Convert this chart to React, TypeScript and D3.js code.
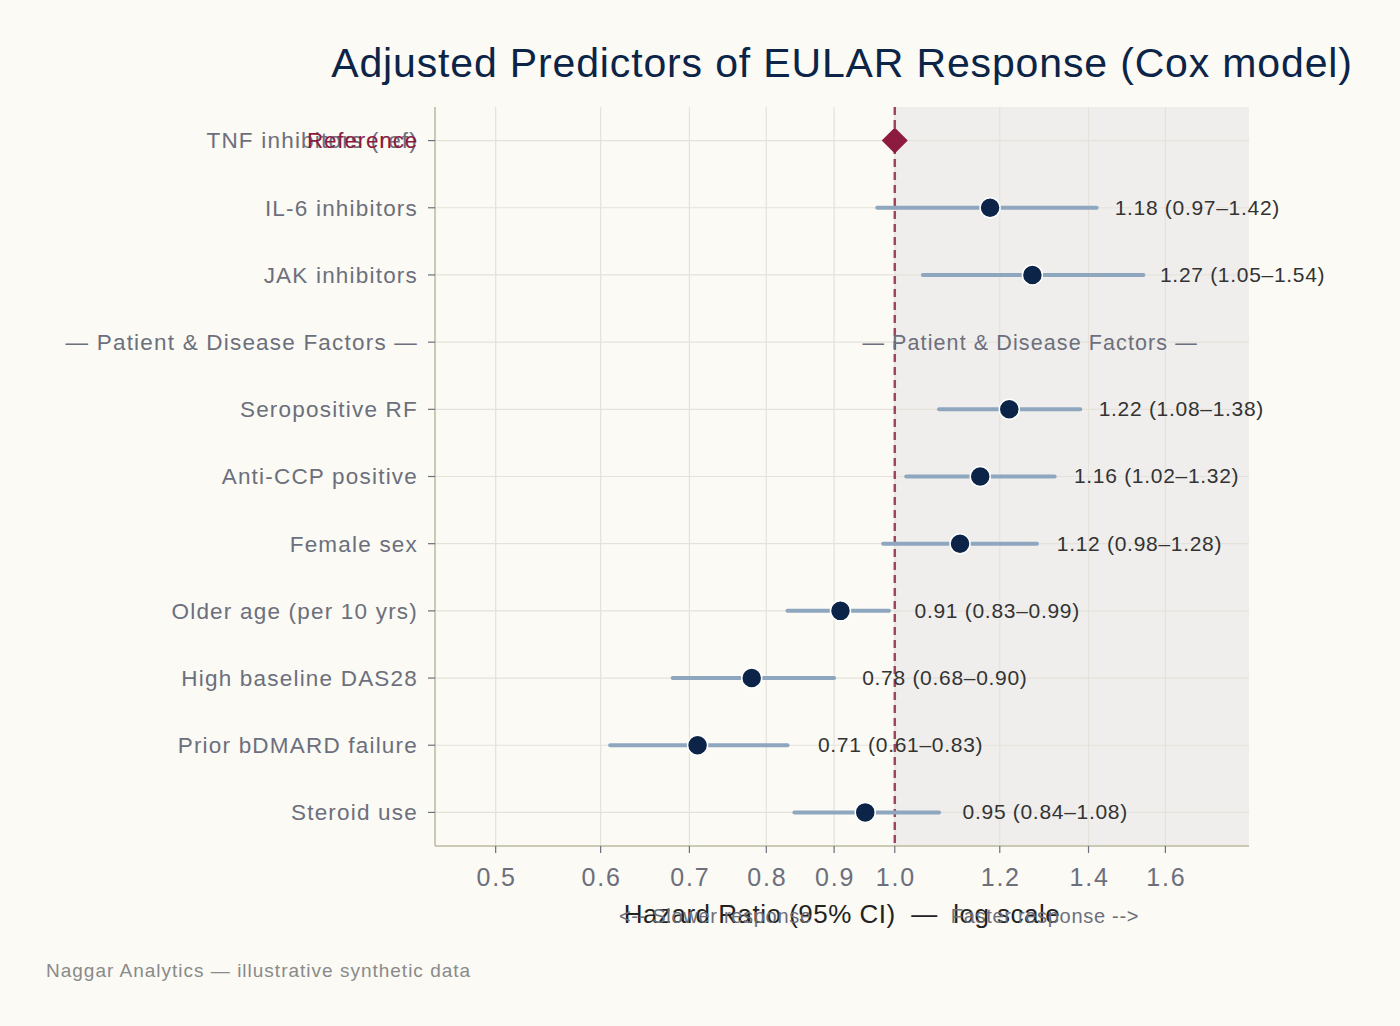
import React from "react";
import * as d3 from "d3";

const predictors = [
  "TNF inhibitors (ref)",
  "IL-6 inhibitors",
  "JAK inhibitors",
  "— Patient & Disease Factors —",
  "Seropositive RF",
  "Anti-CCP positive",
  "Female sex",
  "Older age (per 10 yrs)",
  "High baseline DAS28",
  "Prior bDMARD failure",
  "Steroid use",
];
// null = reference row or section header
const hr = [1.0, 1.18, 1.27, null, 1.22, 1.16, 1.12, 0.91, 0.78, 0.71, 0.95];
const lower = [null, 0.97, 1.05, null, 1.08, 1.02, 0.98, 0.83, 0.68, 0.61, 0.84];
const upper = [null, 1.42, 1.54, null, 1.38, 1.32, 1.28, 0.99, 0.9, 0.83, 1.08];
const xTicks = [0.5, 0.6, 0.7, 0.8, 0.9, 1.0, 1.2, 1.4, 1.6];

const W = 1400;
const H = 1026;
const M = { top: 107, right: 151, bottom: 180, left: 435 };
const FONT = "'Liberation Sans', Arial, Helvetica, sans-serif";

const BG = "#fbfaf4";
const SHADE = "#efeeec";
const NAVY = "#0b2447";
const CRIMSON = "#8c1b3f";
const CI = "#8ea6be";
const GRID = "#e4e2da";
const AXIS = "#bdb8a0";
const LABEL = "#6c6f7c";

export default function App() {
  const x = d3.scaleLog().domain([0.45, 1.85]).range([M.left, W - M.right]);
  const y = d3
    .scalePoint<string>()
    .domain(predictors)
    .range([M.top, H - M.bottom])
    .padding(0.5);
  const fmt = d3.format(".2f");
  const x0 = M.left;
  const x1 = W - M.right;
  const y0 = M.top;
  const y1 = H - M.bottom;

  return (
    <svg
      width={W}
      height={H}
      style={{ position: "absolute", left: 0, top: 0, display: "block" }}
      fontFamily={FONT}
    >
      <rect width={W} height={H} fill={BG} />
      {/* favourable side of the null line */}
      <rect x={x(1)} y={y0} width={x1 - x(1)} height={y1 - y0} fill={SHADE} />

      {xTicks.map((t) => (
        <line key={"gx" + t} x1={x(t)} x2={x(t)} y1={y0} y2={y1} stroke={GRID} strokeWidth={1.2} />
      ))}
      {predictors.map((p) => (
        <line key={"gy" + p} x1={x0} x2={x1} y1={y(p)} y2={y(p)} stroke={GRID} strokeWidth={1.2} />
      ))}

      {/* axes */}
      <line x1={x0} x2={x0} y1={y0} y2={y1} stroke={AXIS} strokeWidth={1.5} />
      <line x1={x0} x2={x1} y1={y1} y2={y1} stroke={AXIS} strokeWidth={1.5} />
      {xTicks.map((t) => (
        <g key={"tx" + t}>
          <line x1={x(t)} x2={x(t)} y1={y1} y2={y1 + 7} stroke={LABEL} strokeWidth={1.2} />
          <text
            x={x(t) + 1}
            y={y1 + 40}
            textAnchor="middle"
            fontSize={25}
            letterSpacing={1.8}
            fill={LABEL}
          >
            {fmt(t).replace(/0$/, "")}
          </text>
        </g>
      ))}
      {predictors.map((p) => (
        <g key={"ty" + p}>
          <line x1={x0 - 7} x2={x0} y1={y(p)} y2={y(p)} stroke={LABEL} strokeWidth={1.2} />
          <text
            x={x0 - 17}
            y={y(p)}
            dy="0.35em"
            textAnchor="end"
            fontSize={22.5}
            letterSpacing={1.2}
            fill={LABEL}
          >
            {p}
          </text>
        </g>
      ))}
      <text
        x={x0 - 17}
        y={y(predictors[0])}
        dy="0.35em"
        textAnchor="end"
        fontSize={22.5}
        letterSpacing={0.8}
        fill={CRIMSON}
      >
        Reference
      </text>

      {/* null line */}
      <line
        x1={x(1)}
        x2={x(1)}
        y1={y0}
        y2={y1}
        stroke={CRIMSON}
        strokeOpacity={0.8}
        strokeWidth={2.5}
        strokeDasharray="8,5"
      />

      <text
        x={x(1.265)}
        y={y(predictors[3])}
        dy="0.35em"
        textAnchor="middle"
        fontSize={21.5}
        letterSpacing={1.1}
        fill={LABEL}
      >
        {predictors[3]}
      </text>

      {predictors.map((p, i) => {
        const v = hr[i];
        if (v === null) return null;
        const cy = y(p) as number;
        if (lower[i] === null) {
          const s = 13;
          const cx = x(v);
          return (
            <path
              key={"m" + p}
              d={`M${cx},${cy - s}L${cx + s},${cy}L${cx},${cy + s}L${cx - s},${cy}Z`}
              fill={CRIMSON}
            />
          );
        }
        const lo = lower[i] as number;
        const hi = upper[i] as number;
        return (
          <g key={"m" + p}>
            <line x1={x(lo)} x2={x(hi)} y1={cy} y2={cy} stroke={CI} strokeWidth={4} strokeLinecap="round" />
            <circle cx={x(v)} cy={cy} r={10} fill={NAVY} stroke="#ffffff" strokeWidth={1.5} />
            <text
              x={x(hi + 0.045)}
              y={cy}
              dy="0.33em"
              fontSize={21}
              letterSpacing={0.7}
              fill="#333333"
            >
              {`${fmt(v)} (${fmt(lo)}–${fmt(hi)})`}
            </text>
          </g>
        );
      })}

      <text
        x={(x0 + x1) / 2}
        y={77}
        textAnchor="middle"
        fontSize={41}
        letterSpacing={0.85}
        fill={NAVY}
      >
        Adjusted Predictors of EULAR Response (Cox model)
      </text>

      <text
        x={(x0 + x1) / 2}
        y={923}
        textAnchor="middle"
        fontSize={26}
        letterSpacing={0.5}
        fill="#222222"
        style={{ whiteSpace: "pre" }}
      >
        {"Hazard Ratio (95% CI)  —  log scale"}
      </text>
      <text x={x(1) - 83} y={923} textAnchor="end" fontSize={20} letterSpacing={0.7} fill={LABEL}>
        {"<-- Slower response"}
      </text>
      <text x={x(1) + 56} y={923} textAnchor="start" fontSize={20} letterSpacing={0.7} fill={LABEL}>
        {"Faster response -->"}
      </text>

      <text x={46} y={977} fontSize={19} letterSpacing={1.0} fill="#8a8a8a">
        Naggar Analytics — illustrative synthetic data
      </text>
    </svg>
  );
}
